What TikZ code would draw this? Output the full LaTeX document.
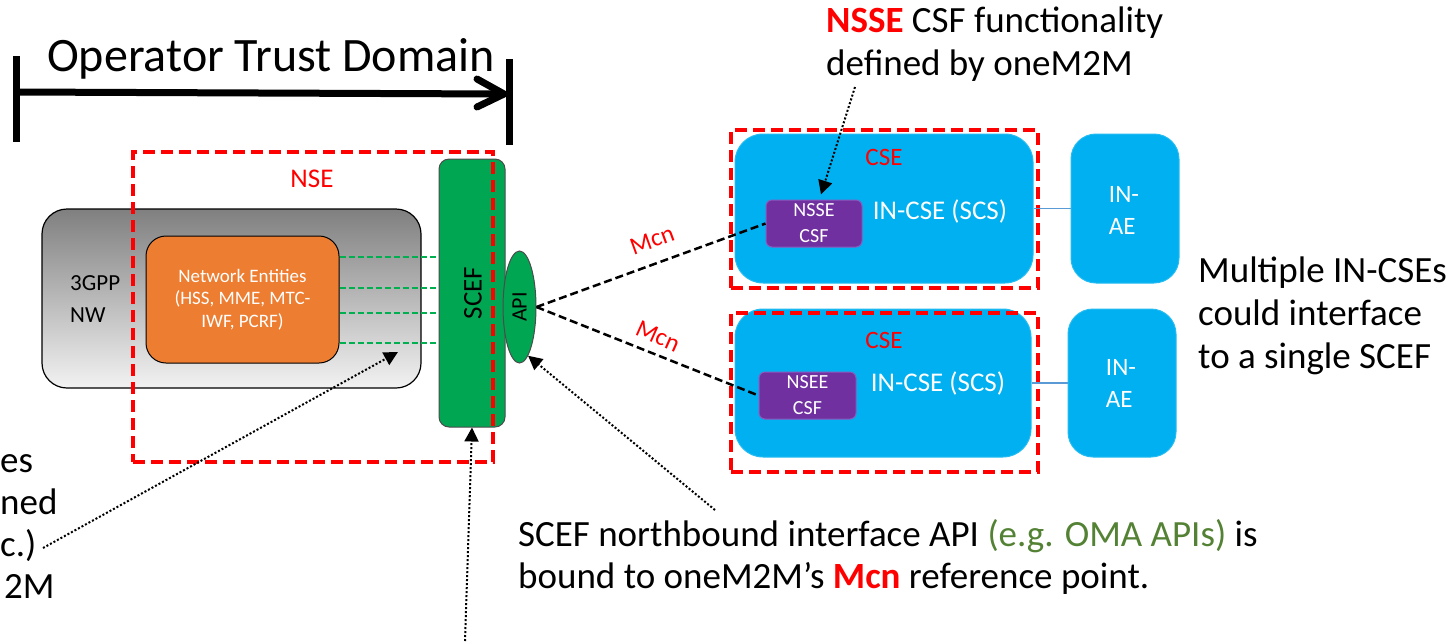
\documentclass[tikz,border=0pt]{standalone}
\usepackage{fontspec}
\setmainfont{Carlito}
\usetikzlibrary{arrows.meta,shapes.geometric,calc}
\definecolor{cred}{RGB}{255,0,0}
\definecolor{cblue}{RGB}{0,176,240}
\definecolor{cblueline}{RGB}{91,155,213}
\definecolor{cgreen}{RGB}{0,166,81}
\definecolor{cgdash}{RGB}{0,176,80}
\definecolor{corange}{RGB}{237,125,49}
\definecolor{cpurple}{RGB}{112,48,160}
\definecolor{cpurpleline}{RGB}{140,90,190}
\definecolor{colivetext}{RGB}{84,130,53}
\begin{document}
\begin{tikzpicture}[x=1pt,y=-1pt,
  redbox/.style={draw=cred, line width=4pt, dash pattern=on 12pt off 6pt, inner sep=0pt},
  grayboxs/.style={draw=black, line width=1.2pt, rounded corners=25pt, top color=black!50, bottom color=black!5, inner sep=0pt},
  orangeboxs/.style={draw=black, line width=1pt, rounded corners=20pt, fill=corange, inner sep=0pt, text=white, align=center, font=\fontsize{19}{22.5}\selectfont},
  greenbar/.style={draw=black!70, line width=1pt, rounded corners=10pt, fill=cgreen, inner sep=0pt},
  apis/.style={ellipse, draw=black!70, line width=1pt, fill=cgreen, inner sep=0pt},
  blueboxs/.style={draw=cblue!85!white, line width=1pt, rounded corners=28pt, fill=cblue, inner sep=0pt},
  purpleboxs/.style={draw=cpurpleline, line width=1pt, rounded corners=6pt, fill=cpurple, inner sep=0pt, text=white, align=center, font=\fontsize{20}{26}\selectfont},
  inaetext/.style={text=white, align=left, inner sep=0pt, font=\fontsize{25}{32}\selectfont},
  gdash/.style={draw=cgdash, line width=2pt, dash pattern=on 6pt off 3pt},
  mcnline/.style={draw=black, line width=2.5pt, dash pattern=on 8pt off 4pt},
  dotarrow/.style={draw=black, line width=2pt, dash pattern=on 2pt off 2pt, -{Triangle[length=14pt,width=14pt]}},
  bigtext/.style={font=\fontsize{37}{43}\selectfont, inner sep=0pt},
  redlabel/.style={text=cred, inner sep=0pt, font=\fontsize{25}{30}\selectfont},
  thickbar/.style={draw=black, line width=7pt}
]
\useasboundingbox (0,0) rectangle (1456,641);
% --- title bracket
\node[anchor=base west, inner sep=0pt, font=\fontsize{48}{56}\selectfont] (title) at (47,71) {Operator Trust Domain};
\coordinate (barLt) at (16,56);
\coordinate (barLb) at (16,142);
\coordinate (barRt) at (509,59);
\coordinate (barRb) at (509,145);
\coordinate (arS) at (16,92);
\coordinate (arE) at (504,94);
\draw[thickbar] (barLt) -- (barLb);
\draw[thickbar] (barRt) -- (barRb);
\draw[thickbar] (arS) -- (arE);
\draw[thickbar, line cap=round, line join=round] ($(arE)+(-27,-15)$) -- (arE) -- ($(arE)+(-27,13)$);
% --- 3GPP network
\node[grayboxs, minimum width=379pt, minimum height=179pt] (nw) at (231.5,298.5) {};
\node[anchor=west, align=left, inner sep=0pt, font=\fontsize{23}{32}\selectfont] (nwlabel) at (70,299) {3GPP\\NW};
\node[orangeboxs, minimum width=193pt, minimum height=127pt] (ne) at (242.5,299.5) {Network Entities\\(HSS, MME, MTC-\\IWF, PCRF)};
% --- SCEF
\node[greenbar, minimum width=66pt, minimum height=268pt] (scef) at (472,293) {};
\node[rotate=90, inner sep=0pt, font=\fontsize{27}{30}\selectfont] (sceflabel) at (473,293) {SCEF};
\coordinate (g1) at (0,257);
\coordinate (g2) at (0,288);
\coordinate (g3) at (0,313);
\coordinate (g4) at (0,343);
\foreach \g in {g1,g2,g3,g4}{
  \draw[gdash] (ne.east |- \g) -- (scef.west |- \g);
}
\node[apis, minimum width=33pt, minimum height=112pt] (api) at (519.5,307) {};
\node[rotate=90, inner sep=0pt, font=\fontsize{22}{26}\selectfont] (apilabel) at (api.center) {API};
% --- NSE boundary
\node[redbox, minimum width=360pt, minimum height=310pt] (nse) at (313,307) {};
\node[redlabel, font=\fontsize{27}{30}\selectfont] (nselabel) at (312,179) {NSE};
% --- CSEs
\node[blueboxs, minimum width=298pt, minimum height=149pt] (cse1) at (884,208.5) {};
\node[blueboxs, minimum width=296pt, minimum height=148pt] (cse2) at (883,383) {};
\node[redlabel] (cse1label) at (884,157) {CSE};
\node[redlabel] (cse2label) at (884,340) {CSE};
\node[text=white, inner sep=0pt, font=\fontsize{27}{30}\selectfont] (in1) at (940,211) {IN-CSE (SCS)};
\node[text=white, inner sep=0pt, font=\fontsize{27}{30}\selectfont] (in2) at (938,383) {IN-CSE (SCS)};
\node[purpleboxs, minimum width=96pt, minimum height=47pt] (nsse) at (814,223.5) {NSSE\\CSF};
\node[purpleboxs, minimum width=97pt, minimum height=47pt] (nsee) at (807.5,395.5) {NSEE\\CSF};
\node[redbox, minimum width=307pt, minimum height=158pt] (csebox1) at (884.5,209) {};
\node[redbox, minimum width=307pt, minimum height=159pt] (csebox2) at (884.5,392.5) {};
% --- IN-AEs
\node[blueboxs, rounded corners=25pt, minimum width=108pt, minimum height=149pt] (ae1) at (1125,208.5) {};
\node[blueboxs, rounded corners=25pt, minimum width=108pt, minimum height=148pt] (ae2) at (1122,383) {};
\node[inaetext] (ae1label) at (1124,210) {IN-\\AE};
\node[inaetext] (ae2label) at (1121,383) {IN-\\AE};
\draw[cblueline, line width=1.2pt] (cse1.east) -- (ae1.west |- cse1.east);
\draw[cblueline, line width=1.2pt] (cse2.east) -- (ae2.west |- cse2.east);
% --- Mcn
\draw[mcnline] (api.east) -- (nsse.west);
\draw[mcnline] (api.east) -- (nsee.west);
\node[redlabel, rotate=20] (mcn1) at (652,240) {Mcn};
\node[redlabel, rotate=-24] (mcn2) at (658,336) {Mcn};
% --- annotations
\node[bigtext, anchor=base west] (t1a) at (826,32) {\textcolor{cred}{\textbf{NSSE}} CSF functionality};
\node[bigtext, anchor=base west] (t1b) at (826,75) {defined by oneM2M};
\node[bigtext, anchor=base west] (t2a) at (1198,282) {Multiple IN-CSEs};
\node[bigtext, anchor=base west] (t2b) at (1198,325) {could interface};
\node[bigtext, anchor=base west] (t2c) at (1198,368) {to a single SCEF};
\node[bigtext, anchor=base west] (t3a) at (518,546) {SCEF northbound interface API \textcolor{colivetext}{(e.g. OMA APIs)} is};
\node[bigtext, anchor=base west] (t3b) at (518,588) {bound to oneM2M’s \textcolor{cred}{\textbf{Mcn}} reference point.};
\node[bigtext, anchor=base west] (f1) at (0,472) {es};
\node[bigtext, anchor=base west] (f2) at (0,514) {ned};
\node[bigtext, anchor=base west] (f3) at (0,556) {c.)};
\node[bigtext, anchor=base west] (f4) at (4,598) {2M};
% --- dotted arrows
\coordinate (d1s) at (43,548);
\coordinate (d1e) at (398,352);
\draw[dotarrow] (d1s) -- (d1e);
\coordinate (d2s) at (465,641);
\draw[dotarrow] (d2s) -- (scef.south);
\coordinate (d3s) at (715,510);
\draw[dotarrow] (d3s) -- (api.-80);
\coordinate (d4s) at (855,87);
\draw[dotarrow] (d4s) -- ($(nsse.north)+(7,-5)$);
\end{tikzpicture}
\end{document}
